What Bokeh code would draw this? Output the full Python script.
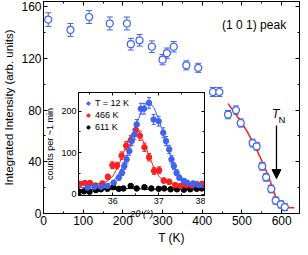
from bokeh.plotting import figure
from bokeh.models import (Range1d, LinearAxis, FixedTicker, Whisker, ColumnDataSource,
                          TeeHead, Arrow, NormalHead, Label, Legend, LegendItem)
from bokeh.embed import file_html
from bokeh.resources import INLINE

FONT = "Liberation Sans"
BLUE = "#3f62f0"
RED = "#ff1f1f"

# ---- main panel: (1 0 1) integrated intensity vs T ----
T_K = [12, 68, 115, 167, 210, 220, 242, 273, 300, 311, 328, 360, 390, 427, 443,
       465, 485, 497, 527, 537, 551, 561, 574, 585, 598, 608]
I_main = [150, 142, 152, 147, 147, 131, 134, 129, 119, 124, 129, 114.6, 112.7, 94, 94,
          76.5, 80, 70, 54.5, 52, 36.5, 28, 19, 10, 7, 5]
I_err = [5.3, 5, 5, 5, 5, 4.5, 4.5, 4.5, 4, 4, 4, 3.5, 3.5, 3.5, 3.5,
         3.2, 3.2, 3.2, 3, 3, 3, 3, 3, 2.8, 2.8, 2.8]
fit_T = [465, 480, 497, 513, 528, 540, 552, 563, 574, 583, 590, 596, 600, 632]
fit_I = [85, 78.5, 71.4, 63.5, 55, 47.5, 39.5, 31.5, 22.6, 14.5, 8, 4.8, 4.5, 4.5]
T_N = 587

x_major = [0, 100, 200, 300, 400, 500, 600]
x_minor = [50, 150, 250, 350, 450, 550]
y_major = [0, 40, 80, 120, 160]
y_minor = [20, 60, 100, 140]

# ---- inset: 2theta scans ----
tt_12 = [35.45, 35.60, 35.74, 35.88, 36.02, 36.13, 36.20, 36.25, 36.30, 36.36, 36.41, 36.47,
         36.52, 36.61, 36.68, 36.79, 36.89, 37.00, 37.10, 37.16, 37.23, 37.28, 37.33, 37.39,
         37.45, 37.55, 37.62, 37.75, 37.88]
c_12 = [16, 18, 18, 20, 28, 40, 52, 68, 84, 104, 128, 144, 168, 206, 206, 220, 180, 176,
        148, 128, 108, 84, 68, 52, 40, 32, 28, 26, 22]
e_12 = [4, 4, 4, 4, 5, 6, 7, 8, 9, 10, 11, 12, 12, 13, 13, 13, 12, 12, 12, 11, 10, 9, 8, 7,
        6, 5, 5, 5, 4]
tt_466 = [35.28, 35.39, 35.50, 35.62, 35.77, 35.89, 35.99, 36.09, 36.19, 36.29, 36.39, 36.50,
          36.59, 36.69, 36.79, 36.90, 37.01, 37.11, 37.23, 37.36, 37.48, 37.60, 37.72, 37.84, 37.95]
c_466 = [25, 27, 27, 21, 26, 42, 70, 69, 93, 117, 130, 155, 141, 113, 89, 56, 58, 33, 30, 22,
         20, 22, 21, 24, 25]
e_466 = [5, 5, 5, 5, 5, 6, 8, 8, 9, 10, 11, 12, 11, 10, 9, 8, 8, 6, 6, 5, 5, 5, 5, 5, 5]
tt_611 = [35.25, 35.37, 35.49, 35.63, 35.74, 35.88, 36.01, 36.13, 36.23, 36.39, 36.52, 36.69,
          36.84, 37.00, 37.12, 37.26, 37.40, 37.55, 37.69, 37.83, 37.94]
c_611 = [7, 7, 6, 10, 12, 13, 17, 13, 14, 20, 14, 17, 14, 13, 14, 12, 12, 11, 12, 13, 14]
e_611 = [3, 3, 3, 3, 3, 3, 4, 3, 3, 4, 3, 4, 3, 3, 3, 3, 3, 3, 3, 3, 3]

fit12_x = [35.25, 35.6, 35.8, 36.0, 36.1, 36.2, 36.3, 36.4, 36.5, 36.6, 36.7, 36.8, 36.9, 37.0,
           37.1, 37.2, 37.3, 37.4, 37.5, 37.6, 37.7, 37.8, 38.0]
fit12_y = [16, 16.5, 19, 31, 44, 64, 91, 125, 161, 193, 214, 220, 208, 181, 147, 111, 79, 55,
           38, 27, 21, 18, 16]
fit466_x = [35.25, 35.6, 35.8, 35.9, 36.0, 36.1, 36.2, 36.3, 36.4, 36.5, 36.6, 36.7, 36.8, 36.9,
            37.0, 37.1, 37.2, 37.4, 38.0]
fit466_y = [24, 24.3, 27.4, 32.8, 44, 63, 90, 119, 143, 152, 143, 119, 90, 63, 44, 33, 27, 24.3, 24]
fit611_x = [35.25, 36.0, 36.4, 36.8, 38.0]
fit611_y = [10, 12, 14, 12, 12]

ins_x_major = [36, 37, 38]
ins_x_minor = [35.5, 36.5, 37.5]
ins_y_major = [0, 100, 200]
ins_y_minor = [50, 150]


def style_axis(ax, major, minor, size, tick_in=4, minor_in=2, labels=True):
    ax.ticker = FixedTicker(ticks=major, minor_ticks=minor)
    ax.major_tick_in = tick_in
    ax.major_tick_out = 0
    ax.minor_tick_in = minor_in
    ax.minor_tick_out = 0
    ax.axis_line_color = "black"
    ax.major_tick_line_color = "black"
    ax.minor_tick_line_color = "black"
    ax.major_label_text_font = FONT
    ax.axis_label_text_font = FONT
    ax.axis_label_text_color = "black"
    ax.axis_label_text_font_style = "normal"
    if labels:
        ax.major_label_text_color = "black"
        ax.major_label_text_font_size = size
        ax.major_label_standoff = 2
        ax.axis_label_standoff = 3
    else:
        # mirrored ticks only: labels are not painted at all
        ax.major_label_text_color = None
        ax.major_label_text_font_size = "1px"
        ax.major_label_standoff = 0
        ax.axis_label = None


p = figure(width=300, height=247, x_range=Range1d(0, 645), y_range=Range1d(0, 164),
           output_backend="svg", toolbar_location=None,
           min_border_left=35, min_border_right=1, min_border_top=1, min_border_bottom=32,
           x_axis_label="T (K)", y_axis_label="Integrated Intensity (arb. units)")
p.grid.visible = False
p.outline_line_color = "black"
p.background_fill_color = "white"
style_axis(p.xaxis[0], x_major, x_minor, "12px")
style_axis(p.yaxis[0], y_major, y_minor, "12px")
p.xaxis[0].axis_label_text_font_size = "12px"
p.yaxis[0].axis_label_text_font_size = "11.5px"
top_ax = LinearAxis()
style_axis(top_ax, x_major, x_minor, "1px", labels=False)
p.add_layout(top_ax, "above")
right_ax = LinearAxis()
style_axis(right_ax, y_major, y_minor, "1px", labels=False)
p.add_layout(right_ax, "right")

src = ColumnDataSource(dict(T=T_K, I=I_main,
                            lo=[v - e for v, e in zip(I_main, I_err)],
                            hi=[v + e for v, e in zip(I_main, I_err)]))
p.add_layout(Whisker(source=src, base="T", upper="hi", lower="lo", line_color=BLUE,
                     line_width=1,
                     upper_head=TeeHead(size=6, line_color=BLUE, line_width=1),
                     lower_head=TeeHead(size=6, line_color=BLUE, line_width=1)))
p.line(fit_T, fit_I, line_color=RED, line_width=1.5)
p.scatter("T", "I", source=src, marker="circle", size=7, fill_color="white",
          line_color=BLUE, line_width=1.2)

p.add_layout(Arrow(end=NormalHead(size=9, fill_color="black", line_color="black"),
                   x_start=T_N, y_start=68, x_end=T_N, y_end=27, line_width=1.3,
                   line_color="black"))
p.add_layout(Label(x=576, y=77, text="T", text_font=FONT, text_font_size="12px",
                   text_font_style="italic", text_color="black", text_baseline="alphabetic"))
p.add_layout(Label(x=592, y=73, text="N", text_font=FONT, text_font_size="9.5px",
                   text_color="black", text_baseline="alphabetic"))
p.add_layout(Label(x=450, y=146, text="(1 0 1) peak", text_font=FONT, text_font_size="12px",
                   text_color="black", text_baseline="middle"))

# ---- inset figure ----
ins = figure(width=163, height=131, x_range=Range1d(35.25, 38.0), y_range=Range1d(-3, 245),
             output_backend="svg", toolbar_location=None,
             min_border_left=34, min_border_right=1, min_border_top=1, min_border_bottom=27,
             x_axis_label="2θ (°)", y_axis_label="counts per ~1 min")
ins.grid.visible = False
ins.outline_line_color = "black"
ins.background_fill_color = "white"
ins.border_fill_alpha = 0
style_axis(ins.xaxis[0], ins_x_major, ins_x_minor, "9px", tick_in=3, minor_in=2)
style_axis(ins.yaxis[0], ins_y_major, ins_y_minor, "9px", tick_in=3, minor_in=2)
ins.xaxis[0].axis_label_text_font_size = "9.5px"
ins.xaxis[0].axis_label_text_font_style = "italic"
ins.yaxis[0].axis_label_text_font_size = "9px"
ins.xaxis[0].axis_label_standoff = 1
ins.yaxis[0].axis_label_standoff = 3
it = LinearAxis()
style_axis(it, ins_x_major, ins_x_minor, "1px", tick_in=3, minor_in=2, labels=False)
ins.add_layout(it, "above")
ir = LinearAxis()
style_axis(ir, ins_y_major, ins_y_minor, "1px", tick_in=3, minor_in=2, labels=False)
ins.add_layout(ir, "right")

renderers = []
for xs, ys, es, fx, fy, col in [(tt_611, c_611, e_611, fit611_x, fit611_y, "black"),
                                (tt_466, c_466, e_466, fit466_x, fit466_y, RED),
                                (tt_12, c_12, e_12, fit12_x, fit12_y, BLUE)]:
    s = ColumnDataSource(dict(x=xs, y=ys, lo=[v - e for v, e in zip(ys, es)],
                              hi=[v + e for v, e in zip(ys, es)]))
    ins.line(fx, fy, line_color=col, line_width=1)
    ins.add_layout(Whisker(source=s, base="x", upper="hi", lower="lo", line_color=col,
                           line_width=1,
                           upper_head=TeeHead(size=4, line_color=col, line_width=1),
                           lower_head=TeeHead(size=4, line_color=col, line_width=1)))
    r = ins.scatter("x", "y", source=s, marker="circle", size=5.5, fill_color=col,
                    line_color=col)
    renderers.append(r)

leg = Legend(items=[LegendItem(label="T = 12 K", renderers=[renderers[2]]),
                    LegendItem(label="466 K", renderers=[renderers[1]]),
                    LegendItem(label="611 K", renderers=[renderers[0]])],
             location="top_left", border_line_color=None, background_fill_alpha=0,
             label_text_font=FONT, label_text_font_size="9px", label_text_color="black",
             glyph_width=8, glyph_height=8, label_height=8, spacing=2, padding=2, margin=6,
             label_standoff=3)
ins.add_layout(leg)

ins.styles = {"position": "absolute", "left": "42px", "top": "91px"}

open("out.html", "w").write(file_html([p, ins], INLINE))
